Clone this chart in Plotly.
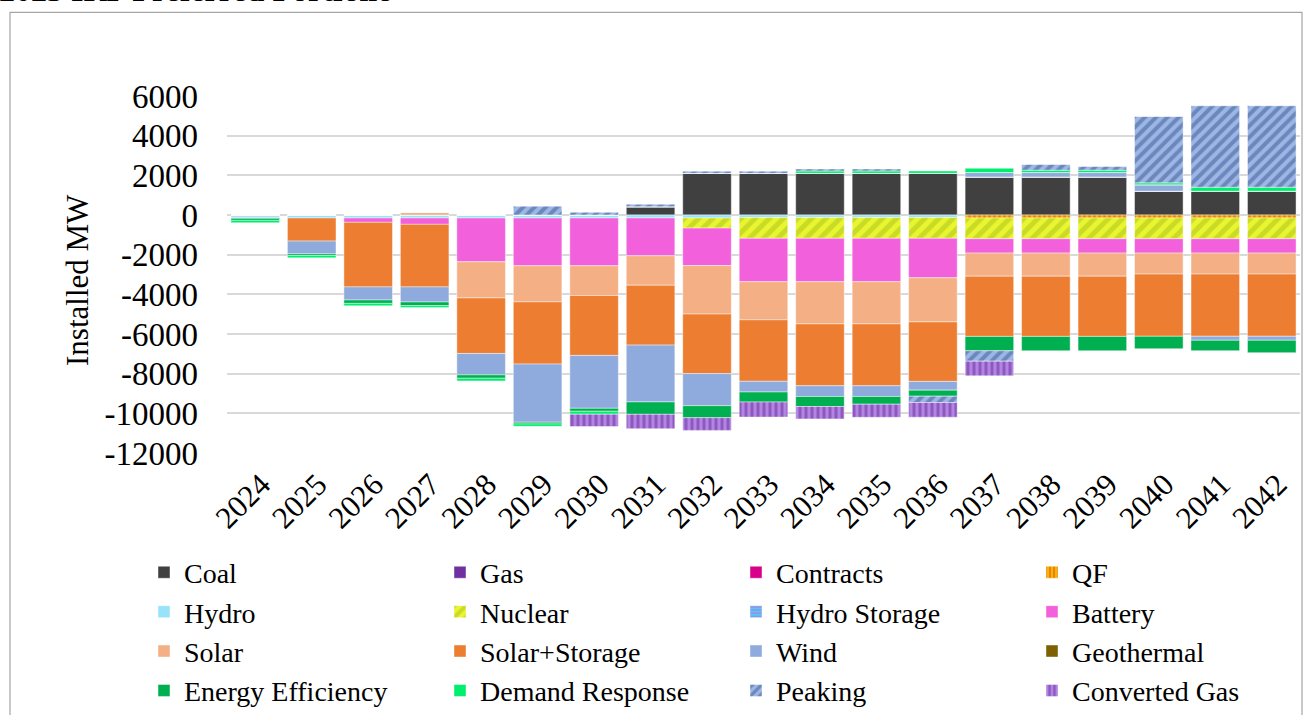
import plotly.graph_objects as go

years = [str(y) for y in range(2024, 2043)]

coal = [0, 0, 0, 0, 0, 0, 0, 420, 2100, 2100, 2100, 2100, 2100, 1920, 1920, 1920, 1200, 1200, 1200]
gas = [0] * 19
contracts = [0] * 19
qf = [0] * 13 + [-150, -150, -150, -150, -150, -150]
hydro = [-120, -150, -150, -150, -150, -150, -150, -150, -150, -130, -130, -130, -130, 0, 0, 0, 0, 0, 0]
nuclear = [0, 0, 0, 0, 0, 0, 0, 0, -510, -1045, -1045, -1045, -1045, -1045, -1045, -1045, -1045, -1045, -1045]
hydro_storage = [0] * 19
battery = [0, 0, -220, -320, -2210, -2410, -2410, -1905, -1890, -2190, -2190, -2190, -1990, -725, -725, -725, -725, -725, -725]
solar = [0, 0, 0, 135, -1820, -1820, -1500, -1485, -2445, -1920, -2125, -2125, -2225, -1165, -1165, -1165, -1060, -1060, -1060]
solar_storage = [0, -1165, -3255, -3155, -2800, -3135, -3020, -3020, -3000, -3100, -3120, -3120, -3000, -3035, -3035, -3035, -3135, -3135, -3135]
wind = [-50, -640, -660, -760, -1080, -2935, -2665, -2865, -1620, -540, -540, -540, -440, 220, 220, 220, 320, -200, -200]
geothermal = [0] * 19
energy_eff = [-100, -85, -170, -185, -170, -85, -150, -625, -605, -505, -505, -390, -305, -725, -725, -725, -625, -525, -625]
demand_resp = [-120, -120, -120, -100, -135, -120, -150, 0, 0, 0, 120, 120, 120, 220, 120, 120, 100, 200, 200]
peaking = [0, 0, 0, 0, 0, 455, 135, 120, 110, 110, 100, 100, -320, -525, 300, 200, 3355, 4115, 4115]
converted_gas = [0, 0, 0, 0, 0, 0, -625, -725, -640, -760, -625, -660, -740, -740, 0, 0, 0, 0, 0]

y_ticks = [6000, 4000, 2000, 0, -2000, -4000, -6000, -8000, -10000, -12000]
y_tick_text = ["6000", "4000", "2000", "0", "-2000", "-4000", "-6000", "-8000", "-10000", "-12000"]

# name, values, color, pattern (shape, fg, size)
series = [
    ("Coal", coal, "#404040", None),
    ("Gas", gas, "#7030A0", None),
    ("Contracts", contracts, "#D9008A", None),
    ("QF", qf, "#FFB000", ("|", "#C55A11", 5)),
    ("Hydro", hydro, "#99E3FA", None),
    ("Nuclear", nuclear, "#E8F530", ("/", "#A9C21A", 10)),
    ("Hydro Storage", hydro_storage, "#55C8F5", ("-", "#CC5FD9", 4)),
    ("Battery", battery, "#F260DB", None),
    ("Solar", solar, "#F4AF84", None),
    ("Solar+Storage", solar_storage, "#ED7D31", None),
    ("Wind", wind, "#8FAADC", None),
    ("Geothermal", geothermal, "#7F6000", None),
    ("Energy Efficiency", energy_eff, "#00B050", None),
    ("Demand Response", demand_resp, "#00EE6E", None),
    ("Peaking", peaking, "#9DB6E4", ("/", "#3A5A98", 8)),
    ("Converted Gas", converted_gas, "#B185E0", ("|", "#6A2C9E", 6)),
]

fig = go.Figure()
for name, vals, color, pat in series:
    marker = dict(color=color, line=dict(width=0.8, color="rgba(255,255,255,0.55)"))
    if pat:
        shape, fg, size = pat
        marker["pattern"] = dict(shape=shape, fgcolor=fg, bgcolor=color, size=size,
                                 solidity=0.5, fillmode="overlay")
    fig.add_trace(go.Bar(name=name, x=years, y=vals, marker=marker))

FONT = "Liberation Serif, Times New Roman, serif"
L, R, T, B = 227, 5, 95.7, 261.7
W, H = 1305, 715
pw, ph = W - L - R, H - T - B

def px_x(x):
    return (x - L) / pw

def px_y(y):
    return (H - B - y) / ph

fig.update_layout(
    width=W, height=H,
    barmode="relative",
    bargap=0.14,
    plot_bgcolor="white",
    paper_bgcolor="white",
    margin=dict(l=L, r=R, t=T, b=B, autoexpand=False),
    font=dict(family=FONT, size=30, color="black"),
    showlegend=True,
    legend=dict(
        orientation="h",
        x=px_x(144), xanchor="left",
        y=px_y(548), yanchor="top",
        entrywidth=251, entrywidthmode="pixels",
        font=dict(family=FONT, size=28, color="black"),
        traceorder="normal",
        bgcolor="rgba(0,0,0,0)",
    ),
    xaxis=dict(
        type="category",
        tickangle=-45,
        showgrid=False,
        showline=False,
        ticks="",
        automargin=False,
        ticklabelstandoff=6,
        ticklabelshift=6,
        tickfont=dict(family=FONT, size=31),
    ),
    yaxis=dict(
        range=[-12000, 6000],
        tickvals=y_ticks,
        ticktext=y_tick_text,
        showgrid=True,
        gridcolor="#D9D9D9",
        gridwidth=1.5,
        zeroline=False,
        showline=False,
        ticks="",
        automargin=False,
        ticklabelstandoff=28,
        tickfont=dict(family=FONT, size=33),
    ),
    shapes=[
        dict(type="rect", xref="paper", yref="paper",
             x0=px_x(10), x1=px_x(1302), y0=px_y(725), y1=px_y(12),
             line=dict(color="#A6A6A6", width=1.2), fillcolor="rgba(0,0,0,0)", layer="below"),
    ],
    annotations=[
        dict(text="Installed MW", xref="paper", yref="paper",
             x=px_x(78), y=px_y(280), textangle=-90, showarrow=False,
             xanchor="center", yanchor="middle",
             font=dict(family=FONT, size=31, color="black")),
        dict(text="<b>2023 IRP Preferred Portfolio</b>", xref="paper", yref="paper",
             x=px_x(-3), y=px_y(10), showarrow=False,
             xanchor="left", yanchor="bottom",
             font=dict(family=FONT, size=32, color="black")),
    ],
)

# drop the page's default body margin so the figure sits at the window's corner
fig.write_html("out.html", config={"displayModeBar": False},
               post_script="document.body.style.margin='0';")
